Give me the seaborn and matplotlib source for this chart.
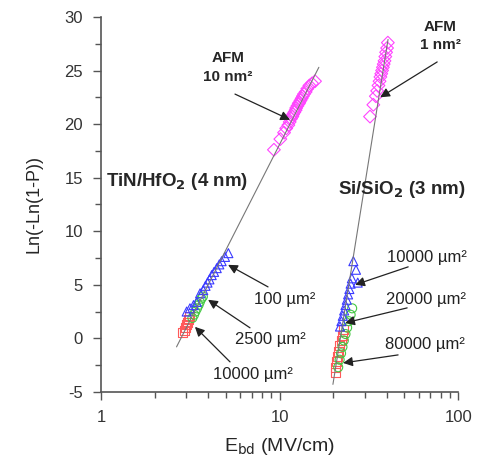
import matplotlib
matplotlib.use("Agg")
import matplotlib.pyplot as plt
import seaborn as sns
import pandas as pd

sns.set_style("ticks")
plt.rcParams['font.family'] = ['Liberation Sans', 'DejaVu Sans']
plt.rcParams['axes.unicode_minus'] = False

# TiN/HfO2 (4 nm) clusters
tin_red_x = [2.88, 2.92, 2.96, 3.00, 3.04, 3.08, 3.12]
tin_red_y = [0.5, 0.75, 1.0, 1.25, 1.5, 1.75, 2.0]
tin_green_x = [3.25, 3.32, 3.38, 3.45, 3.52, 3.58, 3.65, 3.72]
tin_green_y = [1.9, 2.2, 2.5, 2.8, 3.1, 3.4, 3.7, 3.9]
tin_blue_x = [3.02, 3.15, 3.30, 3.44, 3.59, 3.74, 3.85, 3.95, 4.05, 4.17, 4.30, 4.45, 4.60, 4.74, 4.95, 5.17]
tin_blue_y = [2.5, 2.8, 3.1, 3.4, 4.2, 4.5, 4.9, 5.2, 5.5, 5.9, 6.2, 6.55, 6.9, 7.2, 7.6, 7.95]
tin_afm_x = [9.3, 10.1, 10.6, 10.9, 11.2, 11.4, 11.6, 11.8, 11.9, 12.1, 12.3, 12.4,
             12.6, 12.8, 12.9, 13.1, 13.3, 13.5, 13.7, 14.0, 14.3, 14.7, 15.2, 15.8]
tin_afm_y = [17.6, 18.6, 19.2, 19.6, 19.9, 20.2, 20.5, 20.7, 20.9, 21.1, 21.3, 21.5,
             21.7, 21.9, 22.0, 22.2, 22.4, 22.6, 22.8, 23.0, 23.3, 23.6, 23.8, 24.0]
tin_fit_x = [2.65, 16.6]
tin_fit_y = [-0.8, 25.3]

# Si/SiO2 (3 nm) clusters
si_red_x = [20.5, 20.7, 20.9, 21.2, 21.5, 21.8, 22.1, 22.4, 22.7]
si_red_y = [-3.2, -2.7, -2.2, -1.7, -1.2, -0.7, -0.2, 0.3, 0.8]
si_green_x = [21.3, 21.7, 22.1, 22.5, 22.9, 23.4, 23.9, 24.4, 25.0, 25.5]
si_green_y = [-2.7, -2.0, -1.4, -0.8, -0.2, 0.4, 1.0, 1.6, 2.2, 2.8]
si_blue_x = [21.8, 22.2, 22.6, 23.0, 23.4, 23.8, 24.2, 24.6, 25.0, 25.4, 25.9, 26.8, 27.4]
si_blue_y = [1.1, 1.6, 2.1, 2.6, 3.1, 3.6, 4.1, 4.6, 5.1, 5.6, 7.2, 6.4, 5.2]
si_afm_x = [32.1, 33.5, 34.6, 35.2, 35.8, 36.3, 36.7, 37.1, 37.5, 37.9, 38.3, 38.7, 39.1, 39.5, 40.0, 40.4]
si_afm_y = [20.7, 21.8, 22.6, 23.1, 23.6, 24.0, 24.4, 24.7, 25.0, 25.3, 25.6, 25.9, 26.3, 26.7, 27.1, 27.6]
si_fit_x = [19.9, 40.5]
si_fit_y = [-4.3, 27.9]

fig = plt.figure(figsize=(4.9, 4.71), dpi=100)
ax = fig.add_axes([0.206, 0.168, 0.729, 0.796])

ax.plot(tin_fit_x, tin_fit_y, color='#777777', lw=0.8)
ax.plot(si_fit_x, si_fit_y, color='#777777', lw=0.8)

series = [
    (tin_red_x, tin_red_y, 's', '#ff5a5a'),
    (tin_green_x, tin_green_y, 'o', '#44c844'),
    (tin_blue_x, tin_blue_y, '^', '#3a3aff'),
    (tin_afm_x, tin_afm_y, 'D', '#ff44ff'),
    (si_red_x, si_red_y, 's', '#ff5a5a'),
    (si_green_x, si_green_y, 'o', '#44c844'),
    (si_blue_x, si_blue_y, '^', '#3a3aff'),
    (si_afm_x, si_afm_y, 'D', '#ff44ff'),
]
for xs, ys, m, c in series:
    df = pd.DataFrame({'E': xs, 'W': ys})
    sns.scatterplot(data=df, x='E', y='W', ax=ax, marker=m, s=42,
                    facecolors='none', edgecolors=c, linewidth=0.8)

ax.set_xscale('log')
ax.set_xlim(1, 100)
ax.set_ylim(-5, 30)
ax.set_yticks([-5, 0, 5, 10, 15, 20, 25, 30])
ax.set_yticks([-2.5, 2.5, 7.5, 12.5, 17.5, 22.5, 27.5], minor=True)
ax.set_xticks([1, 10, 100])
ax.set_xticklabels(['1', '10', '100'])
ax.tick_params(which='major', length=6, width=1, color='#555555', labelsize=12, pad=7,
               labelcolor='#333333')
ax.tick_params(which='minor', length=4, width=1, color='#555555')
sns.despine(ax=ax)
for sp in ['left', 'bottom']:
    ax.spines[sp].set_color('#555555')
    ax.spines[sp].set_linewidth(1.2)

ax.set_xlabel('E$_{\\rm bd}$ (MV/cm)', fontsize=14, labelpad=8)
ax.set_ylabel('Ln(-Ln(1-P))', fontsize=13, labelpad=16)

ax.text(1.067, 14.6, 'TiN/HfO$_\\mathbf{2}$ (4 nm)', fontsize=13.5, fontweight='bold', va='center', ha='left')
ax.text(48.6, 13.9, 'Si/SiO$_\\mathbf{2}$ (3 nm)', fontsize=13.5, fontweight='bold', va='center', ha='center',
        clip_on=False)

ap = dict(arrowstyle='-|>', color='#222222', lw=0.9, mutation_scale=14, shrinkA=0, shrinkB=0)
ax.text(5.15, 25.3, 'AFM\n10 nm²', fontsize=11, fontweight='bold', ha='center', va='center', linespacing=1.4)
ax.annotate('', xy=(11.45, 20.4), xytext=(5.63, 22.8), arrowprops=ap)
ax.text(79.3, 28.2, 'AFM\n1 nm²', fontsize=11, fontweight='bold', ha='center', va='center',
        linespacing=1.4, clip_on=False)
ax.annotate('', xy=(36.6, 22.5), xytext=(76.3, 25.8), arrowprops=ap)

labels = [
    ('100 µm²', (10.7, 3.6), (5.15, 6.86), (8.62, 4.8)),
    ('2500 µm²', (8.85, -0.1), (3.98, 3.6), (6.83, 0.98)),
    ('10000 µm²', (7.1, -3.4), (3.36, 1.07), (5.28, -2.2)),
    ('10000 µm²', (67.0, 7.5), (26.5, 5.0), (52.5, 6.67)),
    ('20000 µm²', (66.2, 3.6), (23.3, 1.44), (51.8, 2.84)),
    ('80000 µm²', (65.3, -0.6), (22.7, -2.3), (46.1, -1.55)),
]
for txt, pos, head, tail in labels:
    ax.text(pos[0], pos[1], txt, fontsize=12, ha='center', va='center', clip_on=False, color='#222222')
    ax.annotate('', xy=head, xytext=tail, arrowprops=ap)

fig.savefig('out.png', dpi=100)
